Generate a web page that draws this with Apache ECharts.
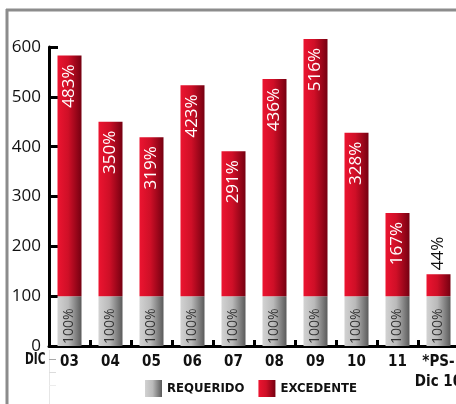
<!DOCTYPE html>
<html>
<head>
<meta charset="utf-8">
<style>
  html, body { margin: 0; padding: 0; background: #fff; }
  #chart { width: 456px; height: 404px; }
</style>
<script src="https://cdn.jsdelivr.net/npm/echarts@6/dist/echarts.min.js"></script>
</head>
<body>
<div id="chart"></div>
<script>
// Periods on the category axis
const categories = ['03', '04', '05', '06', '07', '08', '09', '10', '11', '*PS-\nDic 10'];
// Required base (always 100%)
const requerido = [100, 100, 100, 100, 100, 100, 100, 100, 100, 100];
// Excess above the requirement, in %
const excedente = [483, 350, 319, 423, 291, 436, 516, 328, 167, 44];
// Value-axis ticks
const yTicks = [0, 100, 200, 300, 400, 500, 600];

const condensed = '"DejaVu Sans Condensed", "Roboto", sans-serif';
const plain = '"Open Sans", "Noto Sans", sans-serif';

const grayFill = new echarts.graphic.LinearGradient(0, 0, 1, 0, [
  { offset: 0, color: '#d2d2d2' },
  { offset: 0.45, color: '#bababa' },
  { offset: 1, color: '#5a5a5a' }
]);
const redFill = new echarts.graphic.LinearGradient(0, 0, 1, 0, [
  { offset: 0, color: '#ec1430' },
  { offset: 0.45, color: '#cf0f27' },
  { offset: 1, color: '#760011' }
]);

// Short bars get their label above the bar in dark text
const excedenteData = excedente.map(v => v < 100
  ? { value: v, label: { position: 'top', align: 'left', color: '#111', distance: 4, fontSize: 17 } }
  : v);

const chart = echarts.init(document.getElementById('chart'), null, { renderer: 'canvas' });

chart.setOption({
  animation: false,
  backgroundColor: '#fff',
  grid: { left: 49, top: 47, width: 410, height: 299, containLabel: false, outerBoundsMode: 'none' },
  legend: {
    left: 145, top: 380, padding: 0,
    itemWidth: 17, itemHeight: 17, itemGap: 14,
    icon: 'rect',
    textStyle: { fontFamily: condensed, fontWeight: 'bold', fontSize: 13, color: '#111' },
    data: ['REQUERIDO', 'EXCEDENTE']
  },
  xAxis: {
    type: 'category',
    data: categories,
    boundaryGap: true,
    axisLine: { lineStyle: { color: '#000', width: 3 } },
    axisTick: { show: true, inside: true, length: 6, lineStyle: { color: '#000', width: 3 } },
    axisLabel: {
      margin: 6, color: '#111', fontFamily: condensed, fontWeight: 'bold', fontSize: 15,
      lineHeight: 20, interval: 0
    }
  },
  yAxis: {
    type: 'value',
    min: yTicks[0], max: yTicks[yTicks.length - 1], interval: 100,
    axisLine: { show: true, lineStyle: { color: '#000', width: 3 } },
    axisTick: { show: true, inside: true, length: 9, lineStyle: { color: '#000', width: 3 } },
    splitLine: { show: false },
    axisLabel: { margin: 8, color: '#111', fontFamily: plain, fontSize: 17 }
  },
  series: [
    {
      name: 'REQUERIDO',
      type: 'bar',
      stack: 'total',
      barWidth: 24,
      clip: false,
      data: requerido,
      itemStyle: { color: grayFill },
      label: {
        show: true, position: 'insideBottom', rotate: 90, align: 'left', verticalAlign: 'middle',
        distance: 2, formatter: '{c}%', color: '#333', fontFamily: plain, fontSize: 14
      }
    },
    {
      name: 'EXCEDENTE',
      type: 'bar',
      stack: 'total',
      barWidth: 24,
      clip: false,
      data: excedenteData,
      itemStyle: { color: redFill },
      label: {
        show: true, position: 'insideTop', rotate: 90, align: 'right', verticalAlign: 'middle',
        distance: 9, formatter: '{c}%', color: '#fff', fontFamily: plain, fontSize: 17
      }
    }
  ],
  graphic: [
    // outer frame
    { type: 'line', shape: { x1: 6, y1: 10, x2: 456, y2: 10 }, style: { stroke: '#8c8c8c', lineWidth: 3 } },
    { type: 'line', shape: { x1: 7, y1: 9, x2: 7, y2: 404 }, style: { stroke: '#8c8c8c', lineWidth: 3 } },
    // faint guide under the axis origin
    { type: 'line', shape: { x1: 49.5, y1: 350, x2: 49.5, y2: 404 }, style: { stroke: '#e6e6e6', lineWidth: 1 } },
    { type: 'line', shape: { x1: 49, y1: 359.5, x2: 56, y2: 359.5 }, style: { stroke: '#a8a8a8', lineWidth: 1 } },
    { type: 'line', shape: { x1: 49, y1: 372.5, x2: 56, y2: 372.5 }, style: { stroke: '#dcdcdc', lineWidth: 1 } },
    { type: 'line', shape: { x1: 49, y1: 385.5, x2: 56, y2: 385.5 }, style: { stroke: '#ececec', lineWidth: 1 } },
    {
      type: 'text', x: 25, y: 353, scaleX: 0.78,
      style: { text: 'DIC', fill: '#111', font: 'bold 15px ' + condensed }
    }
  ]
});
</script>
</body>
</html>
